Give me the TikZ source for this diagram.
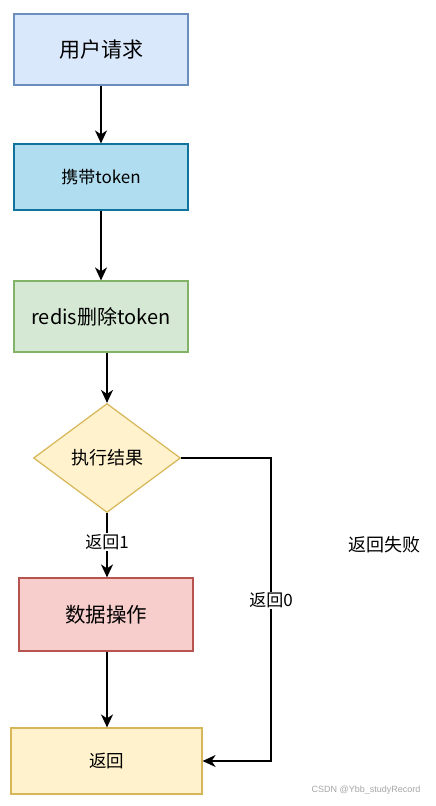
\documentclass[tikz,border=0pt]{standalone}
\usepackage{fontspec}
\setmainfont{Liberation Sans}
\newfontfamily\cjk{Noto Sans CJK SC}
\usetikzlibrary{shapes.geometric,arrows.meta}
\definecolor{bluefill}{HTML}{DAE8FC}\definecolor{bluedraw}{HTML}{6C8EBF}
\definecolor{tealfill}{HTML}{B1DDF0}\definecolor{tealdraw}{HTML}{10739E}
\definecolor{greenfill}{HTML}{D5E8D4}\definecolor{greendraw}{HTML}{82B366}
\definecolor{yelfill}{HTML}{FFF2CC}\definecolor{yeldraw}{HTML}{D6B656}
\definecolor{redfill}{HTML}{F8CECC}\definecolor{reddraw}{HTML}{B85450}
\begin{document}
\begin{tikzpicture}[x=1pt,y=-1pt,
  box/.style={draw,line width=1.2pt,inner sep=0pt,font=\cjk},
  conn/.style={line width=1.6pt,-{Stealth[length=13pt,width=12pt,inset=4pt]}},
  lbl/.style={font=\cjk\fontsize{17}{19}\selectfont,fill=white,inner sep=1pt}]
\useasboundingbox (0,0) rectangle (436,806);
\fill[white] (0,0) rectangle (436,806);
\node[box,fill=bluefill,draw=bluedraw,minimum width=174pt,minimum height=71pt,font=\cjk\fontsize{21}{23}\selectfont] (a) at (101,49.5) {用户请求};
\node[box,fill=tealfill,draw=tealdraw,minimum width=174pt,minimum height=66pt,font=\cjk\fontsize{17}{19}\selectfont] (b) at (101,177) {携带token};
\node[box,fill=greenfill,draw=greendraw,minimum width=174pt,minimum height=71pt,font=\cjk\fontsize{20}{22}\selectfont] (c) at (101,316.5) {redis删除token};
\node[diamond,draw,line width=1.2pt,inner sep=0pt,fill=yelfill,draw=yeldraw,minimum width=147pt,minimum height=109pt,aspect=1.35,font=\cjk\fontsize{18}{20}\selectfont] (d) at (107,458) {执行结果};
\node[box,fill=redfill,draw=reddraw,minimum width=174pt,minimum height=73pt,font=\cjk\fontsize{20.5}{22}\selectfont] (e) at (106,614.5) {数据操作};
\node[box,fill=yelfill,draw=yeldraw,minimum width=191pt,minimum height=66pt,font=\cjk\fontsize{17.5}{19}\selectfont] (f) at (106.5,761) {返回};
\coordinate (r1) at (271,458);
\coordinate (r2) at (271,761);
\draw[conn] (a.south) -- (b.north);
\draw[conn] (b.south) -- (c.north);
\draw[conn] (c.south -| d.north) -- (d.north);
\draw[conn] (d.south) -- node[lbl,pos=0.45] (l1) {返回1} (e.north -| d.south);
\draw[conn] (e.south -| d.south) -- (f.north -| d.south);
\draw[conn] (d.east) -- (r1) -- node[lbl,pos=0.47] (l0) {返回0} (r2) -- (f.east);
\node[font=\cjk\fontsize{18}{20}\selectfont] (fail) at (384,545) {返回失败};
\node[font=\fontsize{9}{11}\selectfont,text=gray!70] (wm) at (366,790) {CSDN @Ybb\_studyRecord};
\end{tikzpicture}
\end{document}
